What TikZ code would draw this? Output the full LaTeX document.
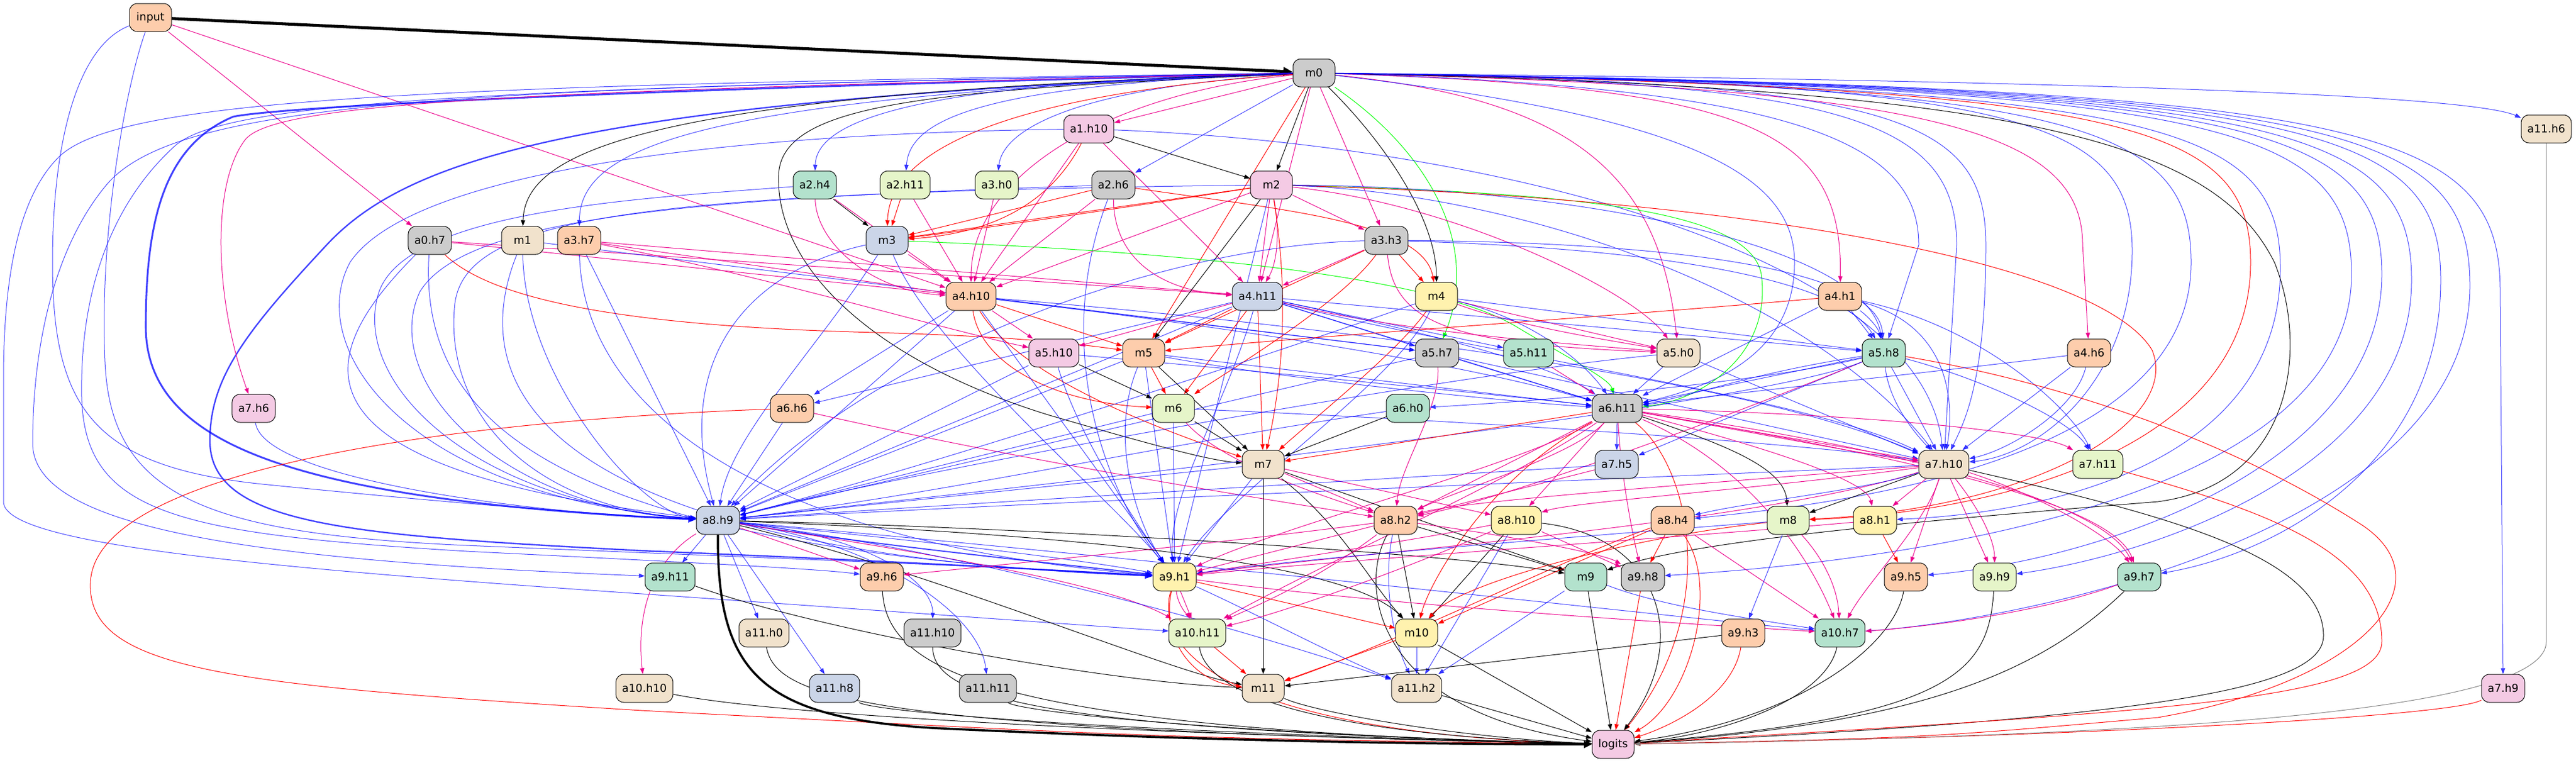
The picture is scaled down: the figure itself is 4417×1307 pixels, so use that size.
\documentclass[tikz,border=0pt]{standalone}
\usepackage{fontspec}
\setmainfont{DejaVu Sans}
\usetikzlibrary{arrows.meta}
\pgfdeclarelayer{bg}
\pgfdeclarelayer{paper}
\pgfsetlayers{paper,bg,main}
\definecolor{cA}{HTML}{B3E2CD}
\definecolor{cB}{HTML}{FDCDAC}
\definecolor{cC}{HTML}{CBD5E8}
\definecolor{cD}{HTML}{F4CAE4}
\definecolor{cE}{HTML}{E6F5C9}
\definecolor{cF}{HTML}{FFF2AE}
\definecolor{cG}{HTML}{F1E2CC}
\definecolor{cH}{HTML}{CCCCCC}
\tikzset{
 nd/.style={draw=black, line width=0.75pt, rounded corners=10pt, minimum height=36pt, minimum width=54pt, inner xsep=7.9pt, inner ysep=0pt, font=\fontsize{14}{16}\selectfont},
 ar/.style={-{Triangle[length=7.5pt,width=5.4pt]}, line width=0.75pt},
 eb/.style={ar, color=blue, opacity=0.75},
 em/.style={ar, color=magenta},
 er/.style={ar, color=red},
 ek/.style={ar, color=black},
 eg/.style={ar, color=green},
 big/.style={-{Triangle[length=10pt,width=9pt]}},
}
\begin{document}
\begin{tikzpicture}[x=0.75pt,y=-0.75pt]
\begin{pgfonlayer}{paper}
\fill[white] (0,0) rectangle (4417,1307);
\end{pgfonlayer}
\useasboundingbox (0,0) rectangle (4417,1307);
% nodes
\node[nd,fill=cB] (input) at (258,30) {input};
\node[nd,fill=cH] (m0) at (2253,125) {m0};
\node[nd,fill=cD] (a1h10) at (1867,221) {a1.h10};
\node[nd,fill=cG] (a11h6) at (4366,221) {a11.h6};
\node[nd,fill=cA] (a2h4) at (1397,317) {a2.h4};
\node[nd,fill=cE] (a2h11) at (1552,317) {a2.h11};
\node[nd,fill=cE] (a3h0) at (1709,317) {a3.h0};
\node[nd,fill=cH] (a2h6) at (1909,317) {a2.h6};
\node[nd,fill=cD] (m2) at (2180,317) {m2};
\node[nd,fill=cH] (a0h7) at (737,412) {a0.h7};
\node[nd,fill=cG] (m1) at (896,412) {m1};
\node[nd,fill=cB] (a3h7) at (993,412) {a3.h7};
\node[nd,fill=cC] (m3) at (1521,412) {m3};
\node[nd,fill=cH] (a3h3) at (2377,412) {a3.h3};
\node[nd,fill=cB] (a4h10) at (1665,508) {a4.h10};
\node[nd,fill=cC] (a4h11) at (2156,508) {a4.h11};
\node[nd,fill=cF] (m4) at (2463,508) {m4};
\node[nd,fill=cB] (a4h1) at (3155,508) {a4.h1};
\node[nd,fill=cD] (a5h10) at (1807,605) {a5.h10};
\node[nd,fill=cB] (m5) at (1961,605) {m5};
\node[nd,fill=cH] (a5h7) at (2464,605) {a5.h7};
\node[nd,fill=cA] (a5h11) at (2621,605) {a5.h11};
\node[nd,fill=cG] (a5h0) at (2878,605) {a5.h0};
\node[nd,fill=cA] (a5h8) at (3230,605) {a5.h8};
\node[nd,fill=cB] (a4h6) at (3582,605) {a4.h6};
\node[nd,fill=cD] (a7h6) at (435,700) {a7.h6};
\node[nd,fill=cB] (a6h6) at (1358,700) {a6.h6};
\node[nd,fill=cE] (m6) at (2012,700) {m6};
\node[nd,fill=cA] (a6h0) at (2414,700) {a6.h0};
\node[nd,fill=cH] (a6h11) at (2773,700) {a6.h11};
\node[nd,fill=cG] (m7) at (2166,796) {m7};
\node[nd,fill=cC] (a7h5) at (2772,796) {a7.h5};
\node[nd,fill=cG] (a7h10) at (3333,796) {a7.h10};
\node[nd,fill=cE] (a7h11) at (3597,796) {a7.h11};
\node[nd,fill=cC] (a8h9) at (1231,892) {a8.h9};
\node[nd,fill=cB] (a8h2) at (2393,892) {a8.h2};
\node[nd,fill=cF] (a8h10) at (2600,892) {a8.h10};
\node[nd,fill=cB] (a8h4) at (2868,892) {a8.h4};
\node[nd,fill=cE] (m8) at (3066,892) {m8};
\node[nd,fill=cF] (a8h1) at (3215,892) {a8.h1};
\node[nd,fill=cA] (a9h11) at (1149,989) {a9.h11};
\node[nd,fill=cB] (a9h6) at (1512,989) {a9.h6};
\node[nd,fill=cF] (a9h1) at (2014,989) {a9.h1};
\node[nd,fill=cA] (m9) at (2719,989) {m9};
\node[nd,fill=cH] (a9h8) at (2817,989) {a9.h8};
\node[nd,fill=cB] (a9h5) at (3268,989) {a9.h5};
\node[nd,fill=cE] (a9h9) at (3420,989) {a9.h9};
\node[nd,fill=cA] (a9h7) at (3668,989) {a9.h7};
\node[nd,fill=cG] (a11h0) at (1310,1085) {a11.h0};
\node[nd,fill=cH] (a11h10) at (1599,1085) {a11.h10};
\node[nd,fill=cE] (a10h11) at (2053,1085) {a10.h11};
\node[nd,fill=cF] (m10) at (2429,1085) {m10};
\node[nd,fill=cB] (a9h3) at (2989,1085) {a9.h3};
\node[nd,fill=cA] (a10h7) at (3155,1085) {a10.h7};
\node[nd,fill=cG] (a10h10) at (1105,1180) {a10.h10};
\node[nd,fill=cC] (a11h8) at (1431,1180) {a11.h8};
\node[nd,fill=cH] (a11h11) at (1694,1180) {a11.h11};
\node[nd,fill=cG] (m11) at (2166,1180) {m11};
\node[nd,fill=cG] (a11h2) at (2429,1180) {a11.h2};
\node[nd,fill=cD] (a7h9) at (4292,1180) {a7.h9};
\node[nd,fill=cD] (logits) at (2766,1276) {logits};

\begin{pgfonlayer}{bg}
% input
\draw[ek, line width=3.8pt, -{Triangle[length=12pt,width=11pt]}] (input) -- (m0);
\draw[em] (input) -- (a0h7);
\draw[em] (input) -- (a4h10);
\draw[eb] (input) .. controls (130,80) and (90,250) .. (90,450) .. controls (90,700) and (160,800) .. (450,830) .. controls (800,865) and (1000,880) .. (a8h9);
\draw[eb] (input) .. controls (215,150) and (170,400) .. (180,620) .. controls (190,850) and (350,915) .. (800,935) .. controls (1400,960) and (1800,975) .. (a9h1);
% m0 left
\draw[eb, line width=2.3pt, big] (m0) .. controls (1200,150) and (500,180) .. (400,200) .. controls (280,250) and (250,380) .. (250,560) .. controls (250,760) and (500,850) .. (1100,886) -- (a8h9);
\draw[eb, line width=1.8pt, big] (m0) .. controls (1000,170) and (700,270) .. (560,420) .. controls (420,570) and (358,650) .. (360,760) .. controls (365,900) and (600,918) .. (1100,944) .. controls (1600,965) and (1850,980) .. (a9h1);
\draw[eb] (m0) .. controls (800,150) and (300,170) .. (180,320) .. controls (90,430) and (56,600) .. (56,760) .. controls (56,900) and (400,960) .. (a9h11);
\draw[eb] (m0) .. controls (700,145) and (200,170) .. (100,270) .. controls (30,340) and (6,480) .. (6,650) -- (6,860) .. controls (6,930) and (400,970) .. (1100,1018) .. controls (1700,1060) and (1900,1075) .. (a10h11);
\draw[eb] (m0) .. controls (750,150) and (380,180) .. (300,250) .. controls (190,350) and (137,500) .. (140,680) .. controls (145,880) and (300,915) .. (800,945) .. controls (1200,965) and (1400,975) .. (a9h6);
\draw[em] (m0) .. controls (900,155) and (470,175) .. (420,240) .. controls (360,320) and (370,520) .. (a7h6);
\draw[ek] (m0) .. controls (1600,155) and (1340,175) .. (1335,300) .. controls (1330,460) and (1500,620) .. (1800,712) .. controls (2000,770) and (2080,790) .. (m7);
\draw[ek] (m0) .. controls (1100,160) and (900,260) .. (m1);
\draw[eb] (m0) .. controls (1200,165) and (995,250) .. (a3h7);
\draw[eb] (m0) .. controls (1600,140) and (1400,200) .. (a2h4);
\draw[eb] (m0) .. controls (1700,145) and (1560,200) .. (a2h11);
\draw[eb] (m0) .. controls (1850,150) and (1720,220) .. (a3h0);
\draw[eb] (m0) -- (a2h6);
\draw[em] (m0) -- (a1h10);
\draw[ek] (m0) -- (m2);
\draw[er] (m0) .. controls (1750,160) and (1525,250) .. (m3);
\draw[em] (m0) .. controls (1900,160) and (1665,300) .. (a4h10);
\draw[em] (m0) -- (a3h3);
\draw[ek] (m0) .. controls (2380,250) and (2463,380) .. (m4);
\draw[eg] (m0) .. controls (2450,260) and (2540,420) .. (a5h7);
\draw[er] (m0) -- (m5);
\draw[em] (m0) -- (a4h11);
% m0 right
\draw[em] (m0) .. controls (2700,170) and (2845,300) .. (a5h0);
\draw[em] (m0) .. controls (3000,150) and (3160,220) .. (a4h1);
\draw[em] (m0) .. controls (3300,150) and (3571,220) .. (3571,420) -- (a4h6);
\draw[eb] (m0) .. controls (3100,150) and (3290,250) .. (3290,420) -- (a5h8);
\draw[eb] (m0) .. controls (2900,200) and (3077,300) .. (3077,450) .. controls (3077,600) and (2950,660) .. (a6h11);
\draw[eb] (m0) .. controls (3800,140) and (4250,170) .. (a11h6);
\draw[eb] (m0) .. controls (3150,140) and (3355,200) .. (3355,420) -- (a7h10);
\draw[eb] (m0) .. controls (3250,140) and (3405,200) .. (3405,420) .. controls (3405,650) and (3370,720) .. (a7h10);
\draw[eb] (m0) .. controls (3450,140) and (3656,200) .. (3656,430) .. controls (3656,650) and (3500,780) .. (a7h10);
\draw[eb] (m0) .. controls (3550,145) and (3757,210) .. (3757,450) .. controls (3757,780) and (3200,860) .. (a8h4);
\draw[er] (m0) .. controls (3650,150) and (3859,210) .. (3859,450) .. controls (3859,780) and (3400,880) .. (m8);
\draw[eb] (m0) .. controls (3700,150) and (3910,210) .. (3910,460) .. controls (3910,800) and (3500,880) .. (a8h1);
\draw[ek] (m0) .. controls (3500,150) and (3800,250) .. (3900,450) .. controls (3960,600) and (3930,830) .. (3700,860) .. controls (3200,900) and (2900,930) .. (m9);
\draw[eb] (m0) .. controls (3800,150) and (4032,210) .. (4032,470) .. controls (4032,850) and (3300,960) .. (a9h8);
\draw[eb] (m0) .. controls (3850,150) and (4084,210) .. (4084,470) .. controls (4084,800) and (3600,960) .. (a9h5);
\draw[eb] (m0) .. controls (3900,150) and (4135,210) .. (4135,480) .. controls (4135,800) and (3700,950) .. (a9h9);
\draw[eb] (m0) .. controls (3950,150) and (4185,210) .. (4185,480) .. controls (4185,800) and (3900,950) .. (a9h7);
\draw[eb] (m0) .. controls (4000,150) and (4235,210) .. (4235,490) .. controls (4235,900) and (3500,1060) .. (a10h7);
\draw[eb] (m0) .. controls (4050,150) and (4287,210) .. (4287,500) -- (a7h9);
% a0.h7, m1, a3.h7
\draw[em] (a0h7) -- (a4h10);
\draw[em] (a0h7) -- (a4h11);
\draw[er] (a0h7) .. controls (850,520) and (1100,560) .. (1500,570) .. controls (1750,577) and (1850,590) .. (m5);
\draw[eb] (a0h7) .. controls (550,600) and (450,800) .. (a8h9);
\draw[eb] (a0h7) .. controls (720,700) and (900,940) .. (a9h1);
\draw[eb] (m1) .. controls (900,650) and (1100,880) .. (a8h9);
\draw[eb] (m1) .. controls (780,700) and (1000,950) .. (a9h1);
\draw[eb] (m1) -- (a5h7);
\draw[em] (a3h7) -- (a4h10);
\draw[em] (a3h7) -- (a4h11);
\draw[em] (a3h7) .. controls (1300,470) and (1600,560) .. (a5h10);
\draw[eb] (a3h7) -- (a8h9);
\draw[eb] (a3h7) .. controls (1000,700) and (1300,930) .. (a9h1);
% a1.h10
\draw[ek] (a1h10) -- (m2);
\draw[er] (a1h10) .. controls (1800,350) and (1700,400) .. (m3);
\draw[em] (a1h10) -- (a4h10);
\draw[em] (a1h10) -- (a4h11);
\draw[eb] (a1h10) .. controls (1200,230) and (700,300) .. (600,450) .. controls (520,600) and (700,850) .. (a8h9);
\draw[eb] (a1h10) .. controls (2600,250) and (3300,450) .. (a7h10);
% a2.h4, a2.h11, a3.h0, a2.h6
\draw[ek] (a2h4) -- (m3);
\draw[em] (a2h4) -- (a4h10);
\draw[em] (a2h4) .. controls (1400,420) and (1500,500) .. (a4h10);
\draw[eb] (a2h4) .. controls (1100,340) and (700,360) .. (650,500) .. controls (600,650) and (800,860) .. (a8h9);
\draw[er] (a2h11) -- (m3);
\draw[em] (a2h11) -- (a4h10);
\draw[em] (a3h0) -- (a4h10);
\draw[er] (a2h6) -- (m3);
\draw[em] (a2h6) -- (a4h10);
\draw[em] (a2h6) .. controls (1910,450) and (2000,500) .. (a4h11);
\draw[er] (a2h6) .. controls (2200,360) and (2440,380) .. (m4);
\draw[eb] (a2h6) .. controls (1200,340) and (800,370) .. (720,500) .. controls (650,650) and (850,870) .. (a8h9);
\draw[eb] (a2h6) .. controls (1800,600) and (1900,850) .. (a9h1);
% m2
\draw[er] (m2) -- (m3);
\draw[er] (m2) .. controls (1900,360) and (1700,390) .. (m3);
\draw[em] (m2) -- (a3h3);
\draw[em] (m2) -- (a4h10);
\draw[em] (m2) -- (a4h11);
\draw[em] (m2) .. controls (2195,400) and (2190,450) .. (a4h11);
\draw[ek] (m2) -- (m5);
\draw[er] (m2) .. controls (2210,500) and (2200,650) .. (m7);
\draw[em] (m2) .. controls (2500,350) and (2800,500) .. (a5h0);
\draw[eg] (m2) .. controls (2700,330) and (3000,360) .. (3020,470) .. controls (3040,620) and (2900,690) .. (a6h11);
\draw[eb] (m2) .. controls (1100,330) and (800,370) .. (780,520) .. controls (760,700) and (900,870) .. (a8h9);
\draw[eb] (m2) .. controls (2700,320) and (3200,420) .. (a5h8);
\draw[er] (m2) .. controls (3000,340) and (3600,450) .. (3690,600) .. controls (3740,720) and (3500,870) .. (m8);
\draw[eb] (m2) .. controls (2600,330) and (3100,500) .. (a7h10);
\draw[eb] (m2) -- (a9h1);
% m3
\draw[em] (m3) -- (a4h10);
\draw[eg] (m3) .. controls (2000,430) and (2450,470) .. (2600,560) .. controls (2700,620) and (2760,650) .. (a6h11);
\draw[eb] (m3) .. controls (1300,460) and (1150,600) .. (a8h9);
\draw[eb] (m3) .. controls (1400,600) and (1250,750) .. (a8h9);
\draw[eb] (m3) .. controls (1600,600) and (1900,850) .. (a9h1);
% a3.h3
\draw[er] (a3h3) -- (m4);
\draw[em] (a3h3) -- (a4h11);
\draw[er] (a3h3) -- (m5);
\draw[em] (a3h3) .. controls (2390,560) and (2500,590) .. (a5h0);
\draw[eb] (a3h3) .. controls (2800,415) and (3220,450) .. (a5h8);
\draw[eb] (a3h3) .. controls (2800,425) and (3150,470) .. (a5h8);
\draw[eb] (a3h3) .. controls (2000,420) and (1500,600) .. (a8h9);
\draw[er] (a3h3) .. controls (2300,520) and (2100,640) .. (m6);
% m4
\draw[em] (m4) -- (a5h0);
\draw[em] (m4) .. controls (2600,560) and (2800,590) .. (a5h0);
\draw[eb] (m4) -- (a5h8);
\draw[eb] (m4) .. controls (2200,600) and (1600,800) .. (a8h9);
\draw[eb] (m4) .. controls (2400,650) and (2100,850) .. (a9h1);
\draw[er] (m4) .. controls (2400,600) and (2250,720) .. (m7);
\draw[eb] (m4) .. controls (2600,540) and (2700,600) .. (a6h11);
% a4.h10
\draw[em] (a4h10) -- (a5h10);
\draw[er] (a4h10) -- (m5);
\draw[er] (a4h10) .. controls (1680,620) and (1800,690) .. (m6);
\draw[er] (a4h10) .. controls (1750,650) and (2000,740) .. (m7);
\draw[eb] (a4h10) -- (a5h7);
\draw[eb] (a4h10) .. controls (2100,560) and (2500,620) .. (a6h11);
\draw[eb] (a4h10) -- (a6h6);
\draw[eb] (a4h10) -- (a8h9);
\draw[eb] (a4h10) -- (a9h1);
\draw[eb] (a4h10) .. controls (2300,560) and (3000,650) .. (a7h10);
% a4.h11
\draw[er] (a4h11) -- (m5);
\draw[er] (a4h11) -- (m6);
\draw[er] (a4h11) -- (m7);
\draw[em] (a4h11) -- (a5h10);
\draw[eb] (a4h11) -- (a5h7);
\draw[eb] (a4h11) -- (a5h11);
\draw[em] (a4h11) .. controls (2400,570) and (2700,590) .. (a5h0);
\draw[eb] (a4h11) -- (a6h11);
\draw[eb] (a4h11) .. controls (2400,560) and (2650,620) .. (a6h11);
\draw[eb] (a4h11) -- (a8h9);
\draw[eb] (a4h11) .. controls (2100,700) and (2000,850) .. (a9h1);
\draw[eb] (a4h11) -- (a5h8);
\draw[eb] (a4h11) .. controls (2500,600) and (3100,680) .. (a7h10);
\draw[eb] (a4h11) -- (a6h6);
% a4.h1
\draw[eb] (a4h1) -- (a5h8);
\draw[eb] (a4h1) .. controls (3200,540) and (3220,560) .. (a5h8);
\draw[er] (a4h1) .. controls (2800,540) and (2200,580) .. (m5);
\draw[eb] (a4h1) -- (a6h11);
\draw[eb] (a4h1) .. controls (3350,560) and (3350,700) .. (a7h10);
\draw[eb] (a4h1) .. controls (3400,560) and (3550,700) .. (a7h11);
% row 6
\draw[ek] (a5h10) -- (m6);
\draw[eb] (a5h10) .. controls (2200,640) and (2600,680) .. (a6h11);
\draw[eb] (a5h10) -- (a8h9);
\draw[eb] (a5h10) .. controls (1850,750) and (1950,900) .. (a9h1);
\draw[er] (m5) -- (m6);
\draw[ek] (m5) -- (m7);
\draw[eb] (m5) -- (a6h11);
\draw[eb] (m5) .. controls (2200,650) and (2600,690) .. (a6h11);
\draw[eb] (m5) -- (a8h9);
\draw[eb] (m5) -- (a9h1);
\draw[eb] (m5) .. controls (1900,750) and (1950,900) .. (a9h1);
\draw[eb] (a5h7) -- (a6h11);
\draw[em] (a5h7) .. controls (2470,700) and (2400,800) .. (a8h2);
\draw[eb] (a5h7) -- (a8h9);
\draw[eb] (a5h7) -- (a7h10);
\draw[em] (a5h11) -- (a6h11);
\draw[eb] (a5h0) -- (a6h11);
\draw[eb] (a5h0) -- (a7h10);
\draw[eb] (a5h0) .. controls (2500,640) and (1600,800) .. (a8h9);
\draw[eb] (a5h8) -- (a6h11);
\draw[eb] (a5h8) .. controls (3000,640) and (2900,680) .. (a6h11);
\draw[eb] (a5h8) .. controls (3000,660) and (2600,690) .. (a6h0);
\draw[eb] (a5h8) -- (a7h10);
\draw[eb] (a5h8) .. controls (3240,700) and (3300,760) .. (a7h10);
\draw[eb] (a5h8) -- (a7h5);
\draw[er] (a5h8) .. controls (3500,650) and (3800,740) .. (4050,900) .. controls (4200,1000) and (4050,1170) .. (3700,1230) .. controls (3300,1265) .. (logits);
\draw[em] (a5h8) .. controls (3000,700) and (2600,850) .. (a8h2);
\draw[eb] (a5h8) .. controls (3000,700) and (1800,830) .. (a8h9);
\draw[eb] (a5h8) .. controls (3400,650) and (3550,720) .. (a7h11);
\draw[eb] (a4h6) -- (a7h10);
\draw[eb] (a4h6) .. controls (3560,700) and (3450,770) .. (a7h10);
\draw[eb] (a4h6) .. controls (3300,640) and (3000,670) .. (a6h11);
% row 7
\draw[eb] (a7h6) .. controls (450,820) and (900,880) .. (a8h9);
\draw[er] (a6h6) .. controls (800,720) and (160,800) .. (155,1000) .. controls (150,1150) and (400,1175) .. (1100,1218) .. controls (2000,1265) .. (logits);
\draw[em] (a6h6) .. controls (1800,800) and (2200,860) .. (a8h2);
\draw[eb] (a6h6) -- (a8h9);
\draw[ek] (m6) -- (m7);
\draw[eb] (m6) -- (a8h9);
\draw[eb] (m6) -- (a9h1);
\draw[em] (m6) .. controls (2100,800) and (2300,860) .. (a8h2);
\draw[eb] (m6) .. controls (2500,720) and (3100,760) .. (a7h10);
\draw[ek] (a6h0) -- (m7);
\draw[eb] (a6h0) .. controls (2000,760) and (1600,850) .. (a8h9);
\draw[eb] (a6h11) -- (a7h5);
\draw[er] (a6h11) -- (m7);
\draw[ek] (a6h11) .. controls (2950,760) and (3060,800) .. (m8);
\draw[em] (a6h11) -- (a7h10);
\draw[em] (a6h11) .. controls (3000,740) and (3200,780) .. (a7h10);
\draw[em] (a6h11) .. controls (3200,710) and (3500,740) .. (a7h11);
\draw[em] (a6h11) -- (a8h2);
\draw[em] (a6h11) .. controls (2700,780) and (2500,840) .. (a8h2);
\draw[em] (a6h11) -- (a8h10);
\draw[em] (a6h11) .. controls (3000,760) and (3200,820) .. (a8h1);
\draw[em] (a6h11) .. controls (2780,820) and (2800,920) .. (a9h8);
\draw[em] (a6h11) .. controls (3200,760) and (3600,850) .. (a9h7);
\draw[em] (a6h11) .. controls (3250,780) and (3620,860) .. (a9h7);
\draw[em] (a6h11) .. controls (2600,800) and (2200,900) .. (a9h1);
\draw[em] (a6h11) .. controls (2600,820) and (2300,950) .. (a10h11);
\draw[em] (a6h11) .. controls (3000,800) and (3100,950) .. (a10h7);
\draw[er] (a6h11) .. controls (2900,800) and (2950,1050) .. (logits);
\draw[er] (a6h11) .. controls (2550,820) and (2450,1000) .. (m10);
% row 8
\draw[eb] (m7) -- (a8h9);
\draw[eb] (m7) -- (a9h1);
\draw[em] (m7) -- (a8h2);
\draw[ek] (m7) .. controls (2400,880) and (2600,950) .. (m9);
\draw[ek] (m7) -- (m11);
\draw[em] (m7) -- (a8h10);
\draw[ek] (m7) .. controls (2300,900) and (2350,1000) .. (m10);
\draw[eb] (a7h5) .. controls (2400,820) and (1700,860) .. (a8h9);
\draw[em] (a7h5) -- (a8h2);
\draw[eb] (a7h10) .. controls (2800,820) and (1800,860) .. (a8h9);
\draw[em] (a7h10) .. controls (2900,830) and (2500,860) .. (a8h2);
\draw[em] (a7h10) -- (a8h1);
\draw[ek] (a7h10) -- (m8);
\draw[em] (a7h10) .. controls (3000,840) and (2700,860) .. (a8h10);
\draw[em] (a7h10) -- (a9h5);
\draw[em] (a7h10) -- (a9h9);
\draw[em] (a7h10) .. controls (3400,880) and (3420,930) .. (a9h9);
\draw[em] (a7h10) .. controls (3500,850) and (3620,920) .. (a9h7);
\draw[em] (a7h10) .. controls (3300,900) and (3200,1000) .. (a10h7);
\draw[ek] (a7h10) .. controls (3700,880) and (3984,950) .. (3984,1090) .. controls (3984,1180) and (3700,1230) .. (logits);
\draw[em] (a7h10) .. controls (3000,900) and (2300,950) .. (a9h1);
\draw[eb] (a7h10) .. controls (3200,840) and (3000,860) .. (a8h4);
\draw[er] (a7h11) .. controls (3900,880) and (4084,950) .. (4084,1100) .. controls (4084,1200) and (3700,1220) .. (logits);
% row 9
\draw[ek, line width=2.8pt, big] (a8h9) .. controls (1230,1150) and (1300,1230) .. (1600,1248) .. controls (2100,1272) and (2500,1276) .. (logits);
\draw[eb] (a8h9) -- (a9h11);
\draw[em] (a8h9) -- (a9h6);
\draw[eb] (a8h9) .. controls (1500,920) and (1800,950) .. (a9h1);
\draw[eb, line width=1.5pt] (a8h9) .. controls (1500,935) and (1800,965) .. (a9h1);
\draw[eb] (a8h9) -- (a11h0);
\draw[eb] (a8h9) -- (a11h8);
\draw[eb] (a8h9) .. controls (1500,920) and (1600,1000) .. (a11h10);
\draw[eb] (a8h9) .. controls (1500,930) and (1680,1050) .. (a11h11);
\draw[em] (a8h9) .. controls (1120,960) and (1090,1050) .. (a10h10);
\draw[em] (a8h9) .. controls (1600,950) and (1900,1000) .. (a10h11);
\draw[ek] (a8h9) .. controls (1700,910) and (2300,950) .. (m10);
\draw[ek] (a8h9) .. controls (1600,980) and (2000,1150) .. (m11);
\draw[eb] (a8h9) .. controls (1700,950) and (2200,1100) .. (a11h2);
\draw[ek] (a8h9) .. controls (1800,905) and (2500,950) .. (m9);
\draw[eb] (a8h9) .. controls (2000,960) and (2800,1050) .. (a10h7);
\draw[ek] (a8h2) -- (m9);
\draw[ek] (a8h2) -- (m10);
\draw[eb] (a8h2) .. controls (2370,1000) and (2390,1100) .. (a11h2);
\draw[ek] (a8h2) .. controls (2330,1000) and (2350,1220) .. (logits);
\draw[em] (a8h2) -- (a9h1);
\draw[em] (a8h2) .. controls (2100,930) and (1800,960) .. (a9h6);
\draw[em] (a8h2) .. controls (2250,1000) and (2150,1040) .. (a10h11);
\draw[em] (a8h2) .. controls (2600,920) and (2750,950) .. (a9h8);
\draw[ek] (a8h10) -- (m10);
\draw[eb] (a8h10) -- (a11h2);
\draw[ek] (a8h10) .. controls (2850,920) and (2900,1100) .. (logits);
\draw[em] (a8h10) -- (a9h8);
\draw[em] (a8h10) .. controls (2400,930) and (2200,960) .. (a9h1);
\draw[em] (a8h10) .. controls (2400,980) and (2200,1050) .. (a10h11);
\draw[er] (a8h4) -- (m10);
\draw[er] (a8h4) .. controls (2950,1000) and (2900,1200) .. (logits);
\draw[em] (a8h4) -- (a10h7);
\draw[er] (a8h4) -- (a9h8);
\draw[er] (a8h4) .. controls (2700,950) and (2400,1100) .. (m11);
\draw[eb] (m8) -- (a9h3);
\draw[er] (m8) .. controls (2800,920) and (2500,1000) .. (m10);
\draw[em] (m8) .. controls (3120,950) and (3150,1000) .. (a10h7);
\draw[eb] (m8) .. controls (2700,920) and (2200,960) .. (a9h1);
\draw[er] (a8h1) -- (a9h5);
\draw[em] (a8h1) .. controls (2900,920) and (2300,960) .. (a9h1);
% row 10
\draw[ek] (a9h11) .. controls (1400,1080) and (1900,1170) .. (m11);
\draw[ek] (a9h6) .. controls (1520,1150) and (1700,1250) .. (logits);
\draw[em] (a9h1) -- (a10h11);
\draw[em] (a9h1) .. controls (2020,1040) and (2040,1060) .. (a10h11);
\draw[er] (a9h1) .. controls (1990,1100) and (2050,1170) .. (m11);
\draw[er] (a9h1) .. controls (1970,1150) and (2200,1260) .. (logits);
\draw[er] (a9h1) -- (m10);
\draw[eb] (a9h1) .. controls (2150,1050) and (2300,1130) .. (a11h2);
\draw[em] (a9h1) .. controls (2400,1040) and (2900,1070) .. (a10h7);
\draw[ek] (m9) -- (logits);
\draw[eb] (m9) -- (a11h2);
\draw[eb] (m9) .. controls (2850,1040) and (3000,1060) .. (a10h7);
\draw[er] (a9h8) -- (logits);
\draw[ek] (a9h5) .. controls (3250,1100) and (3100,1230) .. (logits);
\draw[ek] (a9h9) .. controls (3410,1150) and (3350,1230) .. (logits);
\draw[ek] (a9h7) .. controls (3500,1150) and (3300,1240) .. (logits);
\draw[em] (a9h7) .. controls (3500,1050) and (3300,1075) .. (a10h7);
% row 11-12
\draw[ek] (a11h0) .. controls (1330,1200) and (1500,1250) .. (logits);
\draw[ek] (a11h10) .. controls (1600,1200) and (1800,1250) .. (logits);
\draw[er] (a10h11) -- (m11);
\draw[ek] (a10h11) .. controls (2070,1200) and (2300,1260) .. (logits);
\draw[eb] (m10) -- (a11h2);
\draw[ek] (m10) -- (logits);
\draw[er] (m10) -- (m11);
\draw[ek] (a9h3) -- (m11);
\draw[er] (a9h3) .. controls (2970,1200) and (2850,1250) .. (logits);
\draw[ek] (a10h7) .. controls (3130,1200) and (2950,1260) .. (logits);
\draw[ek] (a10h10) .. controls (1300,1220) and (1800,1255) .. (logits);
\draw[ek] (a11h8) .. controls (1500,1220) and (1900,1255) .. (logits);
\draw[ek] (a11h11) .. controls (1750,1220) and (2100,1258) .. (logits);
\draw[ek] (m11) .. controls (2250,1220) and (2500,1265) .. (logits);
\draw[ek] (a11h2) -- (logits);
\draw[er] (a7h9) .. controls (4200,1230) and (3500,1265) .. (logits);
\draw[ek, gray] (a11h6) -- (4366,1100) .. controls (4366,1230) and (3600,1262) .. (logits);
\end{pgfonlayer}
\end{tikzpicture}
\end{document}
